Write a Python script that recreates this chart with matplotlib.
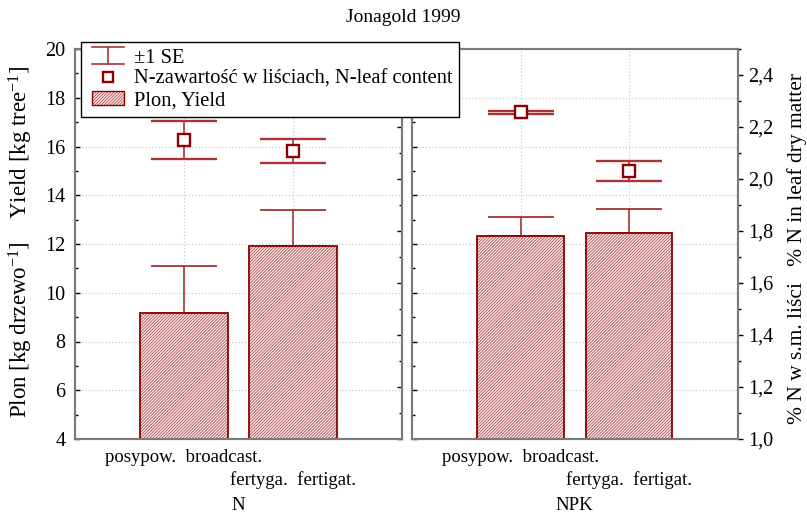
import matplotlib
matplotlib.use('Agg')
import matplotlib.pyplot as plt
from matplotlib.lines import Line2D
from matplotlib.patches import Patch, Rectangle
from matplotlib.legend_handler import HandlerBase, HandlerLine2D
from matplotlib.ticker import MultipleLocator, FixedLocator, FuncFormatter
from matplotlib.transforms import blended_transform_factory

plt.rcParams['font.family'] = ['Liberation Serif', 'DejaVu Serif']
plt.rcParams['mathtext.fontset'] = 'custom'
plt.rcParams['mathtext.rm'] = 'Liberation Serif'
plt.rcParams['mathtext.it'] = 'Liberation Serif:italic'
plt.rcParams['hatch.linewidth'] = 0.75

# ---- data ----
groups = ['N', 'NPK']
methods = ['posypow.  broadcast.', 'fertyga.  fertigat.']
yield_N = [9.16, 11.90]
yield_NPK = [12.34, 12.45]
yield_se_N = [1.92, 1.50]
yield_se_NPK = [0.76, 1.00]
leafN_N = [2.149, 2.108]
leafN_NPK = [2.257, 2.031]
leafN_se_N = [0.073, 0.046]
leafN_se_NPK = [0.006, 0.038]
yield_ticks = [4, 6, 8, 10, 12, 14, 16, 18, 20]
n_ticks = [1.0, 1.2, 1.4, 1.6, 1.8, 2.0, 2.2, 2.4]
n_minor = [1.1, 1.3, 1.5, 1.7, 1.9, 2.1, 2.3, 2.5]

RED = '#8B0000'
HATCH_C = '#BC5a5a'
ERR = '#A83434'
SPINE = '#7a7a7a'
HATCH = '/' * 11

W, H = 807, 515
fig = plt.figure(figsize=(W / 100, H / 100), dpi=100)


def fx(px):
    return px / W


def fy(py):
    return 1 - py / H


top_px, bot_px = 49, 439
AX_H = bot_px - top_px
ax_l = fig.add_axes([fx(75), fy(bot_px), fx(402 - 75), AX_H / H])
ax_r = fig.add_axes([fx(412), fy(bot_px), fx(737.5 - 412), AX_H / H])


def ay(py):
    return (bot_px - py) / AX_H


def panel(ax, yv, yse, nv, nse, glabel, show_left, show_right):
    x = [1, 2]
    ax.set_xlim(0, 3)
    ax.set_ylim(4, 20)
    ax.set_axisbelow(True)
    heights = [v - 4 for v in yv]
    ax.bar(x, heights, bottom=4, width=0.8, facecolor='white',
           edgecolor=HATCH_C, hatch=HATCH, linewidth=0, zorder=3)
    ax.bar(x, heights, bottom=4, width=0.8, fill=False,
           edgecolor=RED, linewidth=1.3, zorder=3.5)
    ax.errorbar(x, yv, yerr=[[0, 0], yse], fmt='none', ecolor=ERR,
                elinewidth=1.2, capsize=24, capthick=1.3, zorder=2)
    ax.yaxis.set_major_locator(FixedLocator(yield_ticks))
    ax.yaxis.set_minor_locator(MultipleLocator(1))
    ax.grid(True, which='major', axis='both', linestyle=(0, (1, 2)),
            color='#c4c4c4', linewidth=0.8)
    ax.tick_params(axis='y', which='both', direction='in', left=True, right=False,
                   labelleft=show_left, pad=7, labelsize=14.5, colors='black')
    ax.tick_params(axis='y', which='major', length=3.5, width=1)
    ax.tick_params(axis='y', which='minor', length=2, width=1)
    ax.set_xticks(x)
    ax.tick_params(axis='x', which='both', direction='in', length=3, top=False,
                   labelbottom=False)
    tr = blended_transform_factory(ax.transData, ax.transAxes)
    ax.text(x[0], ay(458), methods[0], transform=tr, ha='center', va='center',
            fontsize=13.5)
    ax.text(x[1], ay(480), methods[1], transform=tr, ha='center', va='center',
            fontsize=13.5)
    ax.text(0.5, ay(506), glabel, transform=ax.transAxes, ha='center',
            va='center', fontsize=13.5)

    axN = ax.twinx()
    axN.set_ylim(1.0, 2.5)
    axN.errorbar(x, nv, yerr=nse, fmt='s', ms=8, mfc='white', mec=RED, mew=1.7,
                 ecolor=ERR, elinewidth=1.2, capsize=24, capthick=1.3, zorder=4)
    axN.yaxis.set_major_locator(FixedLocator(n_ticks))
    axN.yaxis.set_minor_locator(FixedLocator(n_minor))
    axN.yaxis.set_major_formatter(FuncFormatter(lambda v, p: f'{v:.1f}'.replace('.', ',')))
    axN.tick_params(axis='y', which='both', direction='out' if show_right else 'in',
                    labelright=show_right, pad=4, labelsize=14.5)
    axN.tick_params(axis='y', which='major', length=3.5, width=1)
    axN.tick_params(axis='y', which='minor', length=2, width=1)
    for a in (ax, axN):
        for s in a.spines.values():
            s.set_color(SPINE)
            s.set_linewidth(1.5)
    return axN


panel(ax_l, yield_N, yield_se_N, leafN_N, leafN_se_N, groups[0], True, False)
panel(ax_r, yield_NPK, yield_se_NPK, leafN_NPK, leafN_se_NPK, groups[1], False, True)

fig.text(fx(403), fy(17), 'Jonagold 1999', ha='center', va='center', fontsize=14)
fig.text(fx(21), fy(242), r'Plon [kg drzewo$^{-1}$]    Yield [kg tree$^{-1}$]',
         rotation=90, ha='center', va='center', fontsize=16.5)
fig.text(fx(797), fy(248), '% N w s.m. liści   % N in leaf dry matter',
         rotation=90, ha='center', va='center', fontsize=15.5)


class IBeamHandler(HandlerBase):
    def create_artists(self, legend, orig_handle, xdescent, ydescent, width,
                       height, fontsize, trans):
        x0, x1 = -xdescent, -xdescent + width
        y0, y1 = -ydescent - 0.1 * height, -ydescent + 1.1 * height
        xm = (x0 + x1) / 2
        arts = []
        for xs, ys in (([x0, x1], [y1, y1]), ([xm, xm], [y0, y1]), ([x0, x1], [y0, y0])):
            ln = Line2D(xs, ys, color=ERR, linewidth=1.2)
            ln.set_transform(trans)
            arts.append(ln)
        return arts


class HatchHandler(HandlerBase):
    def create_artists(self, legend, orig_handle, xdescent, ydescent, width,
                       height, fontsize, trans):
        r1 = Rectangle((-xdescent, -ydescent), width, height, facecolor='white',
                       edgecolor=HATCH_C, hatch=HATCH, linewidth=0, transform=trans)
        r2 = Rectangle((-xdescent, -ydescent), width, height, fill=False,
                       edgecolor=RED, linewidth=1.0, transform=trans)
        return [r1, r2]


se_handle = Line2D([], [], color=ERR)
sq_handle = Line2D([], [], linestyle='none', marker='s', ms=7.5, mfc='white',
                   mec=RED, mew=1.7)
bar_handle = Patch(facecolor='white', edgecolor=RED, hatch=HATCH, linewidth=1.0)
leg = fig.legend(handles=[se_handle, sq_handle, bar_handle],
                 labels=['±1 SE', 'N-zawartość w liściach, N-leaf content', 'Plon, Yield'],
                 loc='upper left', bbox_to_anchor=(fx(81), fy(42)),
                 bbox_transform=fig.transFigure, borderaxespad=0, frameon=True,
                 fancybox=False, edgecolor='black', framealpha=1, fontsize=14.8,
                 handlelength=1.8, handletextpad=0.5, borderpad=0.3,
                 labelspacing=0.1,
                 handler_map={se_handle: IBeamHandler(xpad=0.25),
                              sq_handle: HandlerLine2D(xpad=0.25),
                              bar_handle: HatchHandler(xpad=0.25)})
leg.get_frame().set_linewidth(1.0)
leg.set_zorder(10)

fig.savefig('out.png', dpi=100)
